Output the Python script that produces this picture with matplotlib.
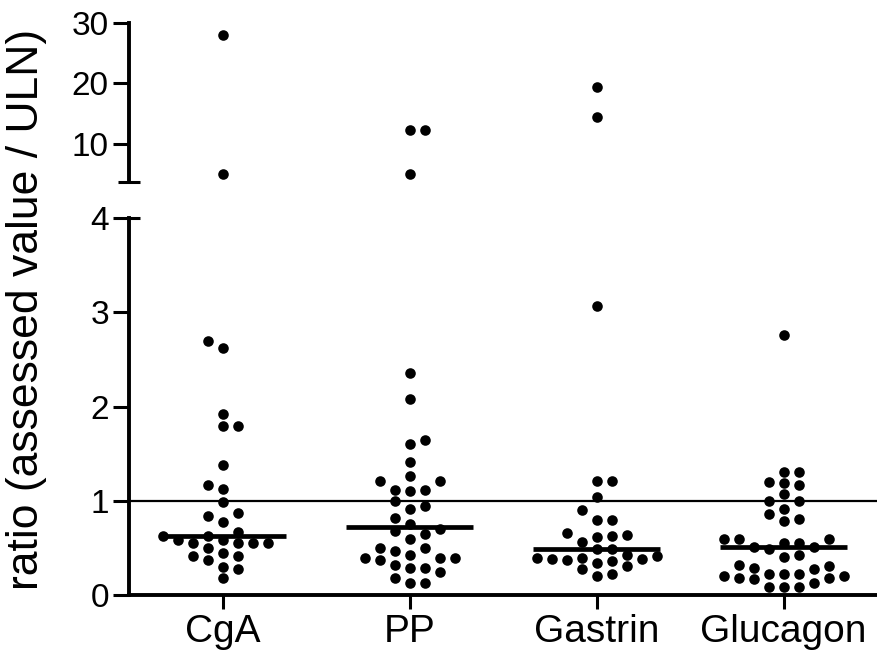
import numpy as np
import matplotlib
matplotlib.use("Agg")
import matplotlib.pyplot as plt

plt.rcParams['font.family'] = ['Liberation Sans', 'DejaVu Sans']

# values (ratio = assessed value / ULN)
groups = ['CgA', 'PP', 'Gastrin', 'Glucagon']

cga = [27.9, 5.0, 2.70, 2.62, 1.92, 1.79, 1.79, 1.38, 1.17, 1.13, 0.985,
       0.87, 0.84, 0.78, 0.67, 0.63, 0.63, 0.58, 0.58, 0.55, 0.55, 0.55,
       0.55, 0.50, 0.445, 0.41, 0.41, 0.37, 0.30, 0.275, 0.18]
pp = [12.3, 12.3, 5.0, 2.36, 2.08, 1.65, 1.60, 1.41, 1.26, 1.21, 1.21,
      1.12, 1.12, 1.10, 0.995, 0.94, 0.91, 0.82, 0.75, 0.70, 0.68, 0.65,
      0.59, 0.50, 0.50, 0.47, 0.43, 0.395, 0.395, 0.395, 0.37, 0.32, 0.29,
      0.29, 0.24, 0.18, 0.13, 0.13]
gastrin = [19.4, 14.5, 3.07, 1.21, 1.21, 1.04, 0.90, 0.80, 0.80, 0.66,
           0.64, 0.625, 0.62, 0.56, 0.49, 0.49, 0.42, 0.41, 0.395, 0.39,
           0.385, 0.385, 0.37, 0.36, 0.34, 0.305, 0.28, 0.225, 0.20]
glucagon = [2.76, 1.31, 1.31, 1.20, 1.19, 1.17, 1.07, 1.00, 1.00, 0.91,
            0.86, 0.81, 0.79, 0.59, 0.59, 0.59, 0.55, 0.55, 0.51, 0.51,
            0.49, 0.43, 0.405, 0.32, 0.31, 0.29, 0.28, 0.22, 0.22, 0.22,
            0.20, 0.20, 0.18, 0.18, 0.17, 0.13, 0.09, 0.09, 0.09]
series = [cga, pp, gastrin, glucagon]

lower_ticks = [0, 1, 2, 3, 4]
upper_ticks = [10, 20, 30]
lower_lim = (0, 4)
upper_lim = (3.8, 30)
ref_line = 1.0

W, H = 877, 658
fig = plt.figure(figsize=(W / 100, H / 100), dpi=100)
left = 129 / W
ax_lo = fig.add_axes([left, 63 / H, 1 - left, (595 - 218.3) / H])
ax_hi = fig.add_axes([left, (H - 181.7) / H, 1 - left, (181.7 - 22.7) / H])

spine_lw = 2.8
for ax, lim in ((ax_lo, lower_lim), (ax_hi, upper_lim)):
    ax.set_xlim(-0.5, 3.5)
    ax.set_ylim(*lim)
    for s in ('top', 'right'):
        ax.spines[s].set_visible(False)
    ax.spines['left'].set_linewidth(spine_lw)
    ax.spines['bottom'].set_linewidth(spine_lw)
    ax.tick_params(axis='y', length=11.5, width=2.2, labelsize=24, pad=3)
    ax.tick_params(axis='x', length=10, width=2.2, labelsize=28, pad=4)

ax_hi.spines['bottom'].set_visible(False)
ax_hi.set_xticks([])
ax_hi.set_yticks(upper_ticks)
ax_lo.set_yticks(lower_ticks)
ax_lo.set_xticks(range(len(groups)))
ax_lo.set_xticklabels(groups)

# break caps
cap = 11 / (W - 129)
ax_hi.plot([-cap, cap], [upper_lim[0], upper_lim[0]], color='black', lw=2.2,
           transform=ax_hi.get_yaxis_transform(), clip_on=False, solid_capstyle='butt')
ax_lo.plot([0, cap], [lower_lim[1], lower_lim[1]], color='black', lw=2.2,
           transform=ax_lo.get_yaxis_transform(), clip_on=False, solid_capstyle='butt')

ax_lo.axhline(ref_line, color='black', lw=1.6, zorder=1)


def swarm(ax, center, vals, step_px=15.0, diam_px=10.8):
    vals = np.sort(np.asarray(vals, dtype=float))
    if len(vals) == 0:
        return np.array([]), vals
    pts = ax.transData.transform(np.column_stack([np.full(len(vals), center), vals]))
    x_per_px = 1.0 / (ax.transData.transform([[1, 0]])[0, 0] - ax.transData.transform([[0, 0]])[0, 0])
    placed = []
    offs = []
    flip = 1
    for py in pts[:, 1]:
        cands = [0]
        for i in range(1, 20):
            cands += [flip * i, -flip * i]
        for c in cands:
            px = c * step_px
            if all((px - qx) ** 2 + (py - qy) ** 2 >= diam_px ** 2 for qx, qy in placed):
                placed.append((px, py))
                offs.append(c * step_px * x_per_px)
                if c != 0:
                    flip = -flip
                break
    return center + np.array(offs), vals


for i, vals in enumerate(series):
    vals = np.asarray(vals)
    lo = vals[vals <= lower_lim[1]]
    hi = vals[vals > lower_lim[1]]
    for ax, part in ((ax_lo, lo), (ax_hi, hi)):
        xs, ys = swarm(ax, i, part)
        ax.scatter(xs, ys, s=58, color='black', linewidths=0, zorder=3, clip_on=False)
    med = np.median(vals)
    ax_lo.hlines(med, i - 0.34, i + 0.34, color='black', lw=3.4, zorder=4)

fig.text(0.030, 0.529, 'ratio (assessed value / ULN)', rotation=90,
         ha='center', va='center', fontsize=32)

fig.savefig('out.png', dpi=100)
